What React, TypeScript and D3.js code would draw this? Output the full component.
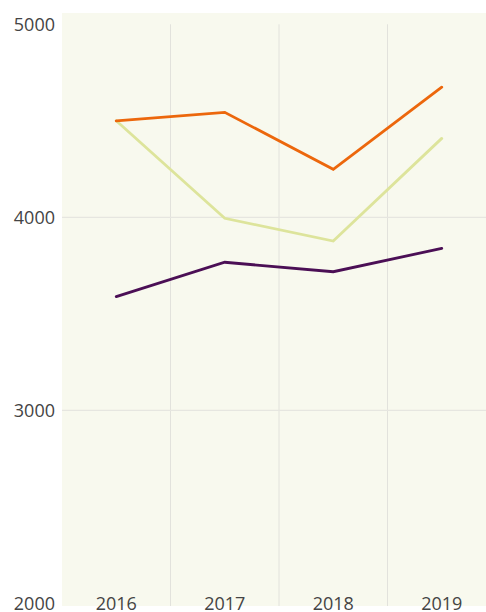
import { useEffect, useRef } from "react";
import * as d3 from "d3";

const years = ["2016", "2017", "2018", "2019"];
const orangeSeries = [4500, 4544, 4249, 4674];
const greenSeries = [4500, 3995, 3877, 4409];
const purpleSeries = [3589, 3767, 3718, 3839];
const yTicks = [2000, 3000, 4000, 5000];

const series = [
  { name: "green", values: greenSeries, color: "#dde49b" },
  { name: "orange", values: orangeSeries, color: "#ec670c" },
  { name: "purple", values: purpleSeries, color: "#4b0f55" },
];

export default function App() {
  const svgRef = useRef<SVGSVGElement>(null);
  const width = 486;
  const height = 612;

  useEffect(() => {
    if (!svgRef.current) return;
    document.body.style.margin = "0";
    const svg = d3.select(svgRef.current);
    svg.selectAll("*").remove();

    const plot = { left: 62, right: 486, top: 13, bottom: 606 };

    const x = d3.scaleBand<string>().domain(years).range([62, 496]);
    const y = d3.scaleLinear().domain([2000, 5000]).range([603.3, 24.3]);

    // plot background
    svg.append("rect")
      .attr("x", plot.left)
      .attr("y", plot.top)
      .attr("width", plot.right - plot.left)
      .attr("height", plot.bottom - plot.top)
      .attr("fill", "#f8f9ee");

    // vertical grid between categories
    svg.append("g")
      .selectAll("line")
      .data(years.slice(1))
      .join("line")
      .attr("x1", d => x(d)!)
      .attr("x2", d => x(d)!)
      .attr("y1", y(5000))
      .attr("y2", plot.bottom)
      .attr("stroke", "#e2e2dc")
      .attr("stroke-width", 1);

    // horizontal grid
    svg.append("g")
      .selectAll("line")
      .data(yTicks.filter(t => t !== 2000 && t !== 5000))
      .join("line")
      .attr("x1", plot.left)
      .attr("x2", plot.right)
      .attr("y1", d => y(d))
      .attr("y2", d => y(d))
      .attr("stroke", "#e6e6e0")
      .attr("stroke-width", 1.2);

    const line = d3.line<number>()
      .x((_, i) => x(years[i])! + x.bandwidth() / 2)
      .y(d => y(d));

    svg.append("g")
      .selectAll("path")
      .data(series)
      .join("path")
      .attr("d", d => line(d.values))
      .attr("fill", "none")
      .attr("stroke", d => d.color)
      .attr("stroke-width", 2.8)
      .attr("stroke-linejoin", "miter")
      .attr("stroke-linecap", "round");

    const font = "'Open Sans', 'Noto Sans', sans-serif";

    // y labels
    svg.append("g")
      .selectAll("text")
      .data(yTicks)
      .join("text")
      .attr("x", 55)
      .attr("y", d => y(d) + 2)
      .attr("text-anchor", "end")
      .attr("dominant-baseline", "middle")
      .attr("font-family", font)
      .attr("font-size", 18)
      .attr("fill", "#444")
      .text(d => String(d));

    // x labels
    svg.append("g")
      .selectAll("text")
      .data(years)
      .join("text")
      .attr("x", d => x(d)! + x.bandwidth() / 2)
      .attr("y", y(2000) + 2)
      .attr("text-anchor", "middle")
      .attr("dominant-baseline", "middle")
      .attr("font-family", font)
      .attr("font-size", 18)
      .attr("fill", "#444")
      .text(d => d);
  }, []);

  return (
    <svg
      ref={svgRef}
      width={width}
      height={height}
      style={{ position: "absolute", left: 0, top: 0, display: "block" }}
    />
  );
}
